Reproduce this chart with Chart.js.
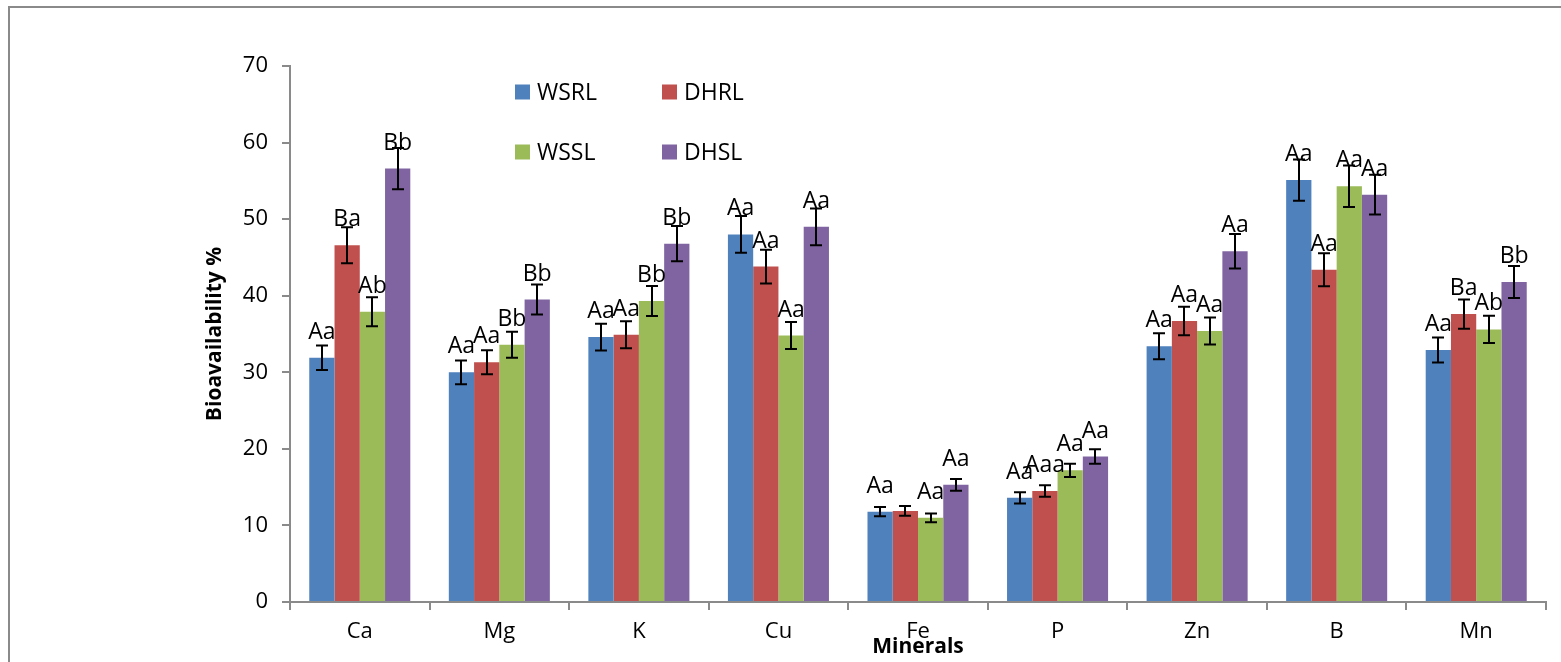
<!DOCTYPE html>
<html>
<head>
<meta charset="utf-8">
<title>Bioavailability of minerals</title>
<script src="https://cdn.jsdelivr.net/npm/chart.js@4.4.1/dist/chart.umd.min.js"></script>
<style>
  html, body { margin: 0; padding: 0; background: #ffffff; }
  canvas { display: block; }
</style>
</head>
<body>
<canvas id="chart" width="1561" height="662"></canvas>
<script>
// Minerals on the x axis
const minerals = ['Ca', 'Mg', 'K', 'Cu', 'Fe', 'P', 'Zn', 'B', 'Mn'];

// Series names
const seriesNames = ['WSRL', 'DHRL', 'WSSL', 'DHSL'];
const seriesColors = ['#4F81BD', '#C0504D', '#9BBB59', '#8064A2'];

// Mean bioavailability (%)
const wsrl = [31.9, 30.0, 34.6, 48.0, 11.8, 13.6, 33.4, 55.1, 32.9];
const dhrl = [46.6, 31.3, 34.9, 43.8, 11.9, 14.5, 36.7, 43.4, 37.6];
const wssl = [37.9, 33.6, 39.3, 34.8, 11.0, 17.2, 35.4, 54.3, 35.6];
const dhsl = [56.6, 39.5, 46.8, 49.0, 15.3, 19.0, 45.8, 53.2, 41.8];

// Error bar half-widths
const wsrlErr = [1.6, 1.55, 1.74, 2.4, 0.61, 0.72, 1.7, 2.7, 1.63];
const dhrlErr = [2.35, 1.57, 1.76, 2.2, 0.63, 0.74, 1.85, 2.15, 1.9];
const wsslErr = [1.9, 1.7, 1.96, 1.76, 0.57, 0.87, 1.76, 2.7, 1.79];
const dhslErr = [2.7, 1.96, 2.3, 2.4, 0.76, 0.96, 2.26, 2.6, 2.09];

// Significance letters
const wsrlLetters = ['Aa', 'Aa', 'Aa', 'Aa', 'Aa', 'Aa', 'Aa', 'Aa', 'Aa'];
const dhrlLetters = ['Ba', 'Aa', 'Aa', 'Aa', '', 'Aaa', 'Aa', 'Aa', 'Ba'];
const wsslLetters = ['Ab', 'Bb', 'Bb', 'Aa', 'Aa', 'Aa', 'Aa', 'Aa', 'Ab'];
const dhslLetters = ['Bb', 'Bb', 'Bb', 'Aa', 'Aa', 'Aa', 'Aa', 'Aa', 'Bb'];

// Y axis ticks
const yTicks = [0, 10, 20, 30, 40, 50, 60, 70];

const seriesValues = [wsrl, dhrl, wssl, dhsl];
const seriesErrors = [wsrlErr, dhrlErr, wsslErr, dhslErr];
const seriesLetters = [wsrlLetters, dhrlLetters, wsslLetters, dhslLetters];

const FONT = '"Open Sans", "DejaVu Sans", sans-serif';
const AXIS_GREY = '#8a8a8a';

// Outer frame, error bars, letters and legend
const decorations = {
  id: 'decorations',
  beforeDraw(chart) {
    const ctx = chart.ctx;
    ctx.save();
    ctx.strokeStyle = AXIS_GREY;
    ctx.lineWidth = 2;
    ctx.beginPath();
    ctx.moveTo(9, chart.height);
    ctx.lineTo(9, 7);
    ctx.lineTo(chart.width, 7);
    ctx.stroke();
    ctx.restore();
  },
  afterDatasetsDraw(chart) {
    const ctx = chart.ctx;
    const yScale = chart.scales.y;
    ctx.save();
    chart.data.datasets.forEach((ds, i) => {
      const meta = chart.getDatasetMeta(i);
      meta.data.forEach((bar, j) => {
        const v = ds.data[j];
        const e = seriesErrors[i][j];
        const yTop = yScale.getPixelForValue(v + e);
        const yBot = yScale.getPixelForValue(v - e);
        const x = Math.round(bar.x);
        ctx.strokeStyle = '#000000';
        ctx.lineWidth = 2;
        ctx.beginPath();
        ctx.moveTo(x, yTop);
        ctx.lineTo(x, yBot);
        ctx.moveTo(x - 6, yTop);
        ctx.lineTo(x + 6, yTop);
        ctx.moveTo(x - 6, yBot);
        ctx.lineTo(x + 6, yBot);
        ctx.stroke();

        const txt = seriesLetters[i][j];
        if (txt) {
          ctx.fillStyle = '#000000';
          ctx.font = '23px ' + FONT;
          ctx.textAlign = 'center';
          ctx.textBaseline = 'alphabetic';
          ctx.fillText(txt, bar.x, yScale.getPixelForValue(v) - 19);
        }
      });
    });

    // Two-column legend
    const cols = [515, 662];
    const rows = [92, 152];
    chart.data.datasets.forEach((ds, i) => {
      const lx = cols[i % 2];
      const ly = rows[Math.floor(i / 2)];
      ctx.fillStyle = ds.backgroundColor;
      ctx.fillRect(lx, ly - 7.5, 15, 15);
      ctx.fillStyle = '#000000';
      ctx.font = '23px ' + FONT;
      ctx.textAlign = 'left';
      ctx.textBaseline = 'middle';
      ctx.fillText(ds.label, lx + 22, ly + 1);
    });
    ctx.restore();
  }
};

new Chart(document.getElementById('chart'), {
  type: 'bar',
  data: {
    labels: minerals,
    datasets: seriesNames.map((name, i) => ({
      label: name,
      data: seriesValues[i],
      backgroundColor: seriesColors[i],
      borderWidth: 0,
      barPercentage: 1.0,
      categoryPercentage: 0.724
    }))
  },
  options: {
    responsive: false,
    animation: false,
    devicePixelRatio: 1,
    layout: { padding: { left: 0, top: 66, right: 15, bottom: 0 } },
    plugins: {
      legend: { display: false },
      tooltip: { enabled: false }
    },
    scales: {
      x: {
        grid: {
          display: true,
          drawOnChartArea: false,
          drawTicks: true,
          tickLength: 8,
          color: AXIS_GREY,
          lineWidth: 2,
          offset: true
        },
        border: { display: true, color: AXIS_GREY, width: 2 },
        ticks: { color: '#000000', font: { family: FONT, size: 22 }, padding: 9 },
        title: {
          display: true,
          text: 'Minerals',
          color: '#000000',
          font: { family: FONT, size: 21, weight: 'bold' },
          padding: { top: 0, bottom: 2 }
        },
        afterFit(scale) { scale.height = 60; }
      },
      y: {
        min: 0,
        max: 70,
        afterBuildTicks(scale) { scale.ticks = yTicks.map(v => ({ value: v })); },
        grid: {
          display: true,
          drawOnChartArea: false,
          drawTicks: true,
          tickLength: 8,
          color: AXIS_GREY,
          lineWidth: 2
        },
        border: { display: true, color: AXIS_GREY, width: 2 },
        ticks: { color: '#000000', font: { family: FONT, size: 22 }, padding: 14 },
        title: {
          display: true,
          text: 'Bioavailability %',
          color: '#000000',
          font: { family: FONT, size: 21, weight: 'bold' },
          padding: { top: 202, bottom: 0 }
        },
        afterFit(scale) { scale.width = 290; }
      }
    }
  },
  plugins: [decorations]
});
</script>
</body>
</html>
